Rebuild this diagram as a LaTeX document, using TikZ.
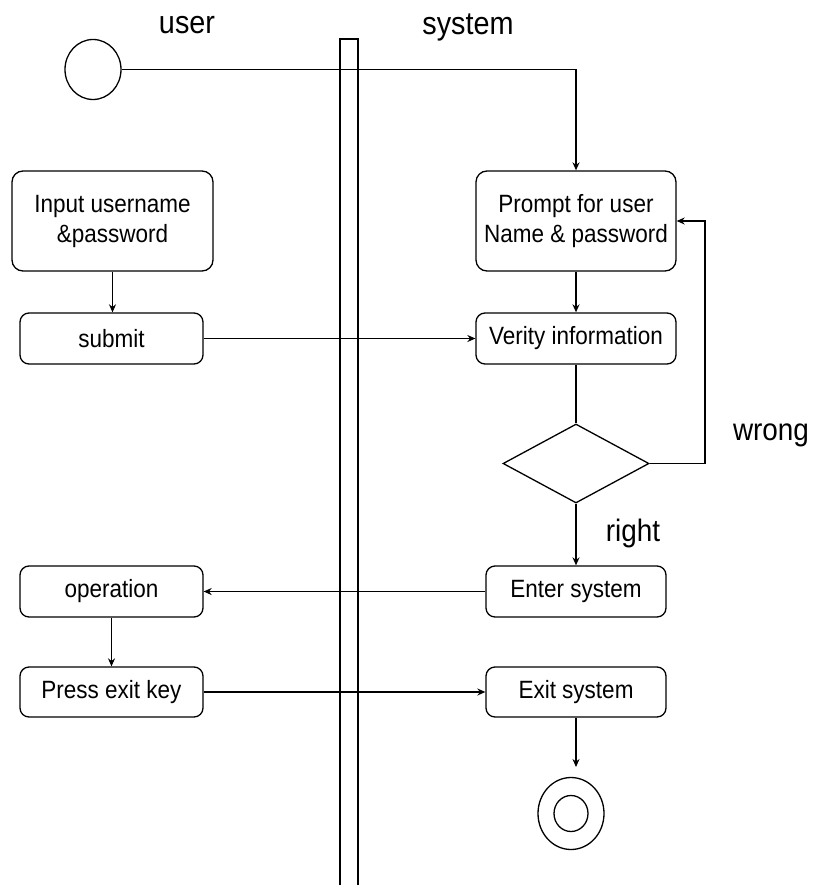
\documentclass[tikz,border=0pt]{standalone}
\usepackage{fontspec}
\setmainfont{Liberation Sans}
\newfontfamily\narrowsans[FakeStretch=0.9]{Liberation Sans}
\usetikzlibrary{arrows.meta,shapes.geometric}

\begin{document}
\begin{tikzpicture}[x=1pt,y=-1pt,
  line width=1.3pt,
  act/.style={draw, rounded corners=11pt, inner sep=0pt, align=center,
    font=\narrowsans\fontsize{25}{30}\selectfont},
  flow/.style={-{Stealth[length=8pt,width=7pt]}},
  lane/.style={font=\narrowsans\fontsize{32}{36}\selectfont, anchor=base},
  guard/.style={font=\narrowsans\fontsize{31}{36}\selectfont, anchor=base}]

\useasboundingbox (0,0) rectangle (813,885);

% swimlane separator
\draw (340,39) rectangle (358,895);

% lane titles
\node[lane] (usertitle) at (187,34) {user};
\node[lane] (systitle) at (468,35) {system};

% start and end states
\node[draw, ellipse, minimum width=56pt, minimum height=60pt, inner sep=0pt] (start) at (93,69.5) {};
\node[draw, ellipse, minimum width=66pt, minimum height=72pt, inner sep=0pt] (finish) at (571,813.5) {};
\node[draw, ellipse, minimum width=34pt, minimum height=36pt, inner sep=0pt] (finishin) at (571,813.5) {};

% user actions
\node[act, minimum width=201pt, minimum height=100pt] (input) at (112.5,221) {Input username\\\&password};
\node[act, rounded corners=9pt, minimum width=183pt, minimum height=51pt] (submit) at (111.5,338.5) {submit};
\node[act, rounded corners=9pt, minimum width=183pt, minimum height=51pt] (oper) at (111.5,591.5) {operation};
\node[act, rounded corners=9pt, minimum width=183pt, minimum height=50pt] (press) at (111.5,692) {Press exit key};

% system actions
\node[act, minimum width=200pt, minimum height=100pt] (prompt) at (576,221) {Prompt for user\\Name \& password};
\node[act, rounded corners=9pt, minimum width=200pt, minimum height=51pt] (verify) at (576,338.5) {Verity information};
\node[draw, diamond, aspect=1.85, minimum width=146pt, minimum height=79pt, inner sep=0pt] (check) at (576,463.5) {};
\node[act, rounded corners=9pt, minimum width=180pt, minimum height=51pt] (enter) at (576,591.5) {Enter system};
\node[act, rounded corners=9pt, minimum width=180pt, minimum height=50pt] (exitsys) at (576,692) {Exit system};

% guard labels
\node[guard] (wronglbl) at (771,440) {wrong};
\node[guard] (rightlbl) at (633,541) {right};

% helper points
\coordinate (loop) at (705,463.5);
\coordinate (endtip) at (576,767);

% connectors
\draw[flow] (start.east) -| (prompt.north);
\draw[flow] (input.south) -- (input.south |- submit.north);
\draw[flow] (submit.east) -- (verify.west);
\draw[flow] (prompt.south) -- (verify.north);
\draw (verify.south) -- (check.north);
\draw[flow] (check.east) -- (loop) |- (prompt.east);
\draw[flow] (check.south) -- (enter.north);
\draw[flow] (enter.west) -- (oper.east);
\draw[flow] (oper.south) -- (oper.south |- press.north);
\draw[flow] (press.east) -- (exitsys.west);
\draw[flow] (exitsys.south) -- (endtip);

\end{tikzpicture}
\end{document}
